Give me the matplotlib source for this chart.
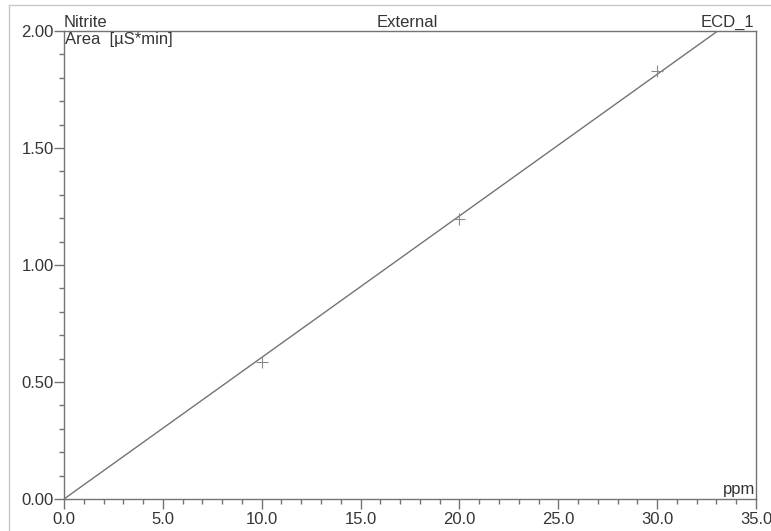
import numpy as np
import matplotlib
matplotlib.use("Agg")
import matplotlib.pyplot as plt
from matplotlib.ticker import MultipleLocator, FormatStrFormatter
from matplotlib.lines import Line2D

plt.rcParams["font.family"] = ["Liberation Sans", "DejaVu Sans"]

# Calibration standards
conc_ppm = [10.0, 20.0, 30.0]
area_us_min = [0.585, 1.197, 1.83]

x_ticks = [0.0, 5.0, 10.0, 15.0, 20.0, 25.0, 30.0, 35.0]
y_ticks = [0.00, 0.50, 1.00, 1.50, 2.00]

line_col = "#737373"
text_col = "#353535"
fs = 12

fig = plt.figure(figsize=(7.71, 5.31), dpi=100)
ax = fig.add_axes([64 / 771, 1 - 499 / 531, 692 / 771, 468 / 531])

# Linear calibration through the origin (least squares)
x = np.asarray(conc_ppm)
y = np.asarray(area_us_min)
slope = np.sum(x * y) / np.sum(x * x)
xf = np.array([0.0, 35.0])
ax.plot(xf, slope * xf, color=line_col, lw=1.0, solid_capstyle="butt")
ax.plot(x, y, linestyle="none", marker="+", ms=8, mew=0.8, color="#8a8a8a")

ax.set_xlim(x_ticks[0], x_ticks[-1])
ax.set_ylim(y_ticks[0], y_ticks[-1])
ax.set_xticks(x_ticks)
ax.set_yticks(y_ticks)
ax.xaxis.set_major_formatter(FormatStrFormatter("%.1f"))
ax.yaxis.set_major_formatter(FormatStrFormatter("%.2f"))
ax.xaxis.set_minor_locator(MultipleLocator(1.0))
ax.yaxis.set_minor_locator(MultipleLocator(0.1))
ax.tick_params(which="major", length=7, width=1.0, color=line_col,
               labelsize=fs, labelcolor=text_col)
ax.tick_params(axis="y", which="major", pad=0.5)
ax.tick_params(axis="x", which="major", pad=2)
ax.tick_params(which="minor", length=3.5, width=1.0, color=line_col)
for s in ax.spines.values():
    s.set_color(line_col)
    s.set_linewidth(1.0)

ax.text(0.0, 1.003, "Nitrite", transform=ax.transAxes, ha="left", va="bottom",
        fontsize=fs, color=text_col)
ax.text(0.496, 1.003, "External", transform=ax.transAxes, ha="center", va="bottom",
        fontsize=fs, color=text_col)
ax.text(0.997, 1.003, "ECD_1", transform=ax.transAxes, ha="right", va="bottom",
        fontsize=fs, color=text_col)
ax.text(0.002, 0.998, "Area  [µS*min]", transform=ax.transAxes, ha="left", va="top",
        fontsize=fs, color=text_col)
ax.text(0.999, 0.004, "ppm", transform=ax.transAxes, ha="right", va="bottom",
        fontsize=fs, color=text_col)

# Page frame lines
fig.add_artist(Line2D([9 / 771, 1.0], [1 - 5 / 531, 1 - 5 / 531],
                      transform=fig.transFigure, color="#c8c8c8", lw=1.0))
fig.add_artist(Line2D([9 / 771, 9 / 771], [0.0, 1 - 5 / 531],
                      transform=fig.transFigure, color="#c8c8c8", lw=1.0))

fig.savefig("out.png", dpi=100)
